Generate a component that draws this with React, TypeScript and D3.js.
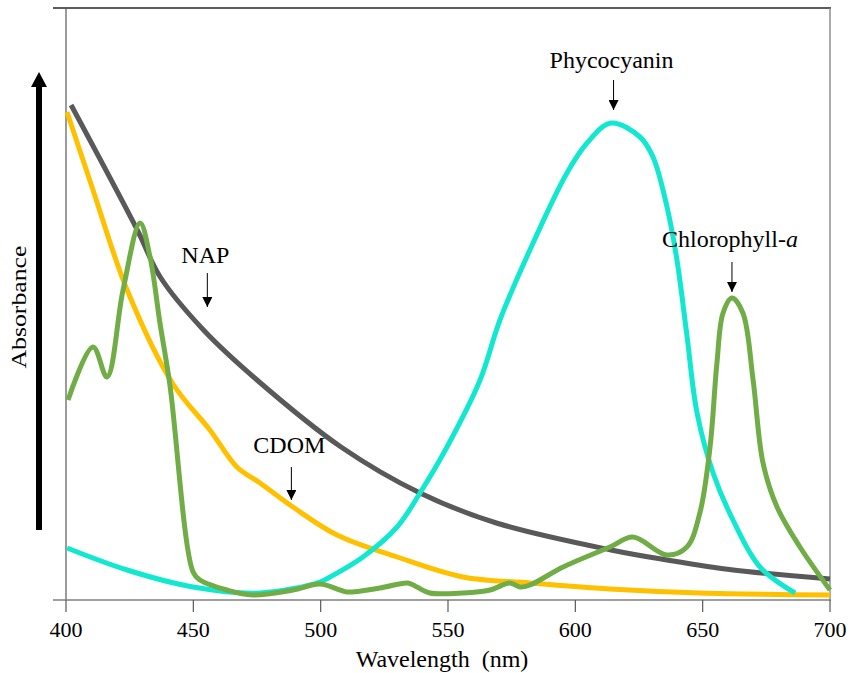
import React from "react";
import * as d3 from "d3";

// Wavelength (nm) / relative absorbance readings for each constituent
const napWl = [402, 428, 437, 454, 475, 508, 539, 569, 614, 636, 662, 700];
const napAbs = [0.99, 0.74, 0.646, 0.54, 0.44, 0.306, 0.214, 0.154, 0.1, 0.08, 0.06, 0.042];

const cdomWl = [400.4, 410.6, 424, 442, 456.5, 467.1, 476.2, 489.1, 506.4, 530, 555.9, 582.2, 613.6, 648.9, 700];
const cdomAbs = [0.976, 0.82, 0.62, 0.432, 0.34, 0.266, 0.234, 0.186, 0.13, 0.086, 0.046, 0.034, 0.022, 0.014, 0.01];

const pcWl = [400.4, 424, 449.9, 476.2, 499.7, 503.7, 516.6, 530, 539, 549.6, 562.6, 570.4, 583.4, 596.7, 604.6, 614, 625.4, 630.5, 636, 639.9, 643.8, 647.8, 654.1, 661.9, 672.5, 686.3];
const pcAbs = [0.104, 0.06, 0.026, 0.014, 0.036, 0.046, 0.086, 0.146, 0.214, 0.306, 0.44, 0.56, 0.714, 0.854, 0.914, 0.954, 0.926, 0.886, 0.786, 0.68, 0.53, 0.374, 0.254, 0.16, 0.066, 0.014];

const chlWl = [400.8, 410.6, 416.1, 422.4, 429.1, 433, 436.9, 440.8, 449.9, 452.6, 463.2, 473.4, 489.1, 499.7, 507.6, 510.3, 523.3, 534.3, 537.8, 542.9, 555.9, 566.5, 574.3, 578.3, 582.2, 595.2, 613.6, 622.6, 636, 643.8, 648.9, 652.9, 655.6, 658, 661.5, 665.8, 669.8, 673.7, 679.2, 688.2, 700];
const chlAbs = [0.4, 0.506, 0.446, 0.62, 0.754, 0.686, 0.554, 0.43, 0.056, 0.04, 0.02, 0.01, 0.02, 0.032, 0.02, 0.016, 0.024, 0.034, 0.026, 0.014, 0.014, 0.02, 0.034, 0.026, 0.03, 0.066, 0.106, 0.126, 0.09, 0.106, 0.174, 0.306, 0.474, 0.574, 0.604, 0.574, 0.44, 0.274, 0.186, 0.106, 0.02];

const xTicks = [400, 450, 500, 550, 600, 650, 700];

const labels = [
  { text: "NAP", wl: 455.5, abs: 0.674, arrowTop: 0.654, arrowBottom: 0.586 },
  { text: "CDOM", wl: 488.5, abs: 0.294, arrowTop: 0.266, arrowBottom: 0.2 },
  { text: "Phycocyanin", wl: 615, abs: 1.064, arrowTop: 1.04, arrowBottom: 0.98 },
  { text: "Chlorophyll-", italic: "a", wl: 661.5, abs: 0.706, arrowTop: 0.676, arrowBottom: 0.616 },
];

const FONT = "'Liberation Serif', 'Times New Roman', serif";

export default function App() {
  const W = 854;
  const H = 673;
  const x = d3.scaleLinear().domain([400, 700]).range([66, 830]);
  const y = d3.scaleLinear().domain([0, 1]).range([600, 100]);

  const mk = (wl: number[], ab: number[]) =>
    d3
      .line<number>()
      .x((_, i) => x(wl[i]))
      .y((_, i) => y(ab[i]))
      .curve(d3.curveCatmullRom.alpha(0.5))(wl) as string;

  const series = [
    { d: mk(napWl, napAbs), color: "#595959" },
    { d: mk(cdomWl, cdomAbs), color: "#FFC000" },
    { d: mk(pcWl, pcAbs), color: "#12E8D0" },
    { d: mk(chlWl, chlAbs), color: "#70AD47" },
  ];

  return (
    <svg
      width={W}
      height={H}
      style={{ position: "absolute", left: 0, top: 0, background: "#fff" }}
      fontFamily={FONT}
    >
      <defs>
        <marker id="ah" viewBox="0 0 10 10" refX="10" refY="5" markerWidth="10" markerHeight="10" markerUnits="userSpaceOnUse" orient="auto">
          <path d="M0,0 L10,5 L0,10 z" fill="#000" />
        </marker>
      </defs>
      {/* frame */}
      <line x1={53} x2={831} y1={8} y2={8} stroke="#262626" strokeWidth={1.5} />
      <line x1={830} x2={830} y1={8} y2={600} stroke="#7f7f7f" strokeWidth={1.3} />
      <line x1={66} x2={66} y1={8} y2={600} stroke="#595959" strokeWidth={1.2} />
      <line x1={53} x2={831} y1={600} y2={600} stroke="#7f7f7f" strokeWidth={1.5} />
      {xTicks.map((t) => (
        <g key={t}>
          <line x1={x(t)} x2={x(t)} y1={600} y2={612} stroke="#595959" strokeWidth={1.2} />
          <text x={x(t)} y={637} textAnchor="middle" fontSize={22} fill="#000">
            {t}
          </text>
        </g>
      ))}
      <text x={442} y={667} textAnchor="middle" fontSize={24} fill="#000" xmlSpace="preserve">
        {"Wavelength  (nm)"}
      </text>
      <text
        transform="translate(26,307) rotate(-90)"
        textAnchor="middle"
        fontSize={20}
        textLength={123}
        lengthAdjust="spacingAndGlyphs"
        fill="#000"
      >
        Absorbance
      </text>
      {/* big arrow */}
      <line x1={39} x2={39} y1={530} y2={84} stroke="#000" strokeWidth={6} />
      <path d="M31,87 L39,72 L47,87 Z" fill="#000" />

      {series.map((s, i) => (
        <path key={i} d={s.d} fill="none" stroke={s.color} strokeWidth={5} strokeLinejoin="round" strokeLinecap="butt" />
      ))}

      {labels.map((l) => (
        <g key={l.text}>
          <text x={x(l.wl) - 2} y={y(l.abs)} textAnchor="middle" fontSize={24} fill="#000">
            {l.text}
            {l.italic ? <tspan fontStyle="italic">{l.italic}</tspan> : null}
          </text>
          <line
            x1={x(l.wl)}
            x2={x(l.wl)}
            y1={y(l.arrowTop)}
            y2={y(l.arrowBottom)}
            stroke="#000"
            strokeWidth={1}
            markerEnd="url(#ah)"
          />
        </g>
      ))}
    </svg>
  );
}
